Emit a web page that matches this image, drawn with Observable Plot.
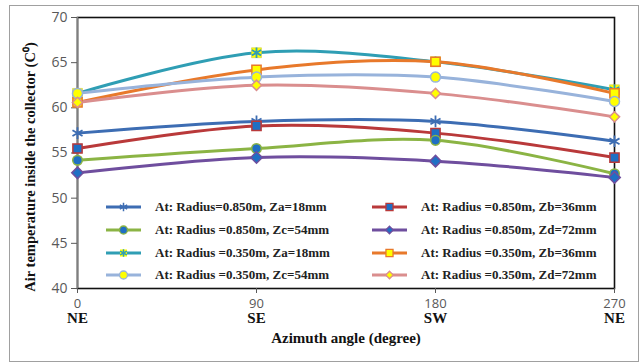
<!DOCTYPE html>
<html><head><meta charset="utf-8">
<script src="https://cdn.jsdelivr.net/npm/d3@7"></script>
<script src="https://cdn.jsdelivr.net/npm/@observablehq/plot@0.6"></script>
<style>
body{margin:0;background:#fff;}
#wrap{position:relative;width:639px;height:363px;overflow:hidden;background:#fff;}
#border{position:absolute;left:9px;top:5px;width:630px;height:357px;border:1px solid #a0a0a0;box-sizing:border-box;pointer-events:none;}
#chart{position:absolute;left:0;top:0;}
.leg{position:absolute;display:flex;align-items:center;font-family:"Liberation Serif","Times New Roman",serif;font-weight:bold;font-size:13px;color:#222;white-space:nowrap;}
.leg svg{margin-right:14px;}
</style></head>
<body><div id="wrap"><div id="chart"></div><div id="border"></div></div>
<script>
// ---- data ----
const azimuth = [0, 90, 180, 270];
const directions = ["NE", "SE", "SW", "NE"];
const yTicks = [40, 45, 50, 55, 60, 65, 70];
const seriesLabels = [
  "At: Radius=0.850m, Za=18mm",
  "At: Radius =0.850m, Zb=36mm",
  "At: Radius =0.850m, Zc=54mm",
  "At: Radius =0.850m, Zd=72mm",
  "At: Radius =0.350m, Za=18mm",
  "At: Radius =0.350m, Zb=36mm",
  "At: Radius =0.350m, Zc=54mm",
  "At: Radius =0.350m, Zd=72mm"
];
const r850Za = [57.2, 58.5, 58.5, 56.3];
const r850Zb = [55.5, 58.0, 57.2, 54.5];
const r850Zc = [54.2, 55.5, 56.4, 52.7];
const r850Zd = [52.8, 54.5, 54.1, 52.3];
const r350Za = [61.6, 66.1, 65.1, 62.0];
const r350Zb = [60.6, 64.2, 65.1, 61.6];
const r350Zc = [61.6, 63.4, 63.4, 60.7];
const r350Zd = [60.6, 62.5, 61.6, 59.0];
const seriesValues = [r850Za, r850Zb, r850Zc, r850Zd, r350Za, r350Zb, r350Zc, r350Zd];

// ---- styles ----
const lineColors = ["#3D6DB3", "#B9393A", "#8BB444", "#6F4E9E", "#2F9EB4", "#E8792B", "#98B3DB", "#DA8E8E"];
const markerFill = ["none", "#1F6FC4", "#1F6FC4", "#1F6FC4", "#FFFF00", "#FFFF00", "#FFFF00", "#FFFF00"];
const markerSymbol = ["asterisk", "square", "circle", "diamond2", "square", "square", "circle", "diamond2"];
const markerR = [5, 5.2, 4.8, 5.2, 5.6, 5.2, 5, 4.6];

const rows = [];
seriesValues.forEach((vals, s) => vals.forEach((v, i) => rows.push({s, x: azimuth[i], y: v})));

const marks = [
  Plot.frame({stroke: "#111", strokeWidth: 1.6}),
  Plot.ruleX([0], {stroke: "#7f7f7f", strokeWidth: 1.6}),
  Plot.axisY({ticks: yTicks, tickSize: 6, tickPadding: 4, label: null, color: "#595959",
    fontSize: 14, fontFamily: "Open Sans, Liberation Sans, sans-serif"}),
  Plot.axisX({ticks: azimuth, tickSize: 5, tickPadding: 5, label: null, color: "#595959",
    tickFormat: d => String(d), fontSize: 13, fontFamily: "Open Sans, Liberation Sans, sans-serif"}),
  Plot.axisX({ticks: azimuth, tickSize: 0, tickPadding: 24, label: null, color: "#111",
    tickFormat: (d, i) => directions[i], fontSize: 15, fontWeight: "bold",
    fontFamily: "Liberation Serif, Times New Roman, serif"}),
];
seriesValues.forEach((vals, s) => {
  const data = rows.filter(r => r.s === s);
  marks.push(Plot.line(data, {x: "x", y: "y", curve: "catmull-rom", stroke: lineColors[s], strokeWidth: 3}));
});
seriesValues.forEach((vals, s) => {
  const data = rows.filter(r => r.s === s);
  if (s === 0) {
    marks.push(Plot.dot(data, {x: "x", y: "y", symbol: "asterisk", r: 5.5, stroke: lineColors[s], strokeWidth: 1.8}));
  } else if (s === 4) {
    marks.push(Plot.dot(data, {x: "x", y: "y", symbol: "square", r: markerR[s], fill: "#FFFF00", stroke: "#c9c94a", strokeWidth: 0.6}));
    marks.push(Plot.dot(data, {x: "x", y: "y", symbol: "asterisk", r: 5, stroke: lineColors[s], strokeWidth: 1.8}));
  } else {
    marks.push(Plot.dot(data, {x: "x", y: "y", symbol: markerSymbol[s], r: markerR[s], fill: markerFill[s], stroke: lineColors[s], strokeWidth: 1.5}));
  }
});
marks.push(Plot.text(["Air temperature inside the collector (C⁰)"], {frameAnchor: "left", dx: -47, dy: 14, rotate: -90,
  textAnchor: "middle", lineAnchor: "middle",
  fontSize: 14.5, fontWeight: "bold", fontFamily: "Liberation Serif, Times New Roman, serif", fill: "#111"}));
marks.push(Plot.text(["Azimuth angle (degree)"], {frameAnchor: "bottom", dy: 54,
  fontSize: 15, fontWeight: "bold", fontFamily: "Liberation Serif, Times New Roman, serif", fill: "#111"}));

const chart = Plot.plot({
  width: 639, height: 363,
  marginLeft: 77, marginRight: 25, marginTop: 17, marginBottom: 75,
  x: {domain: [0, 270]},
  y: {domain: [40, 70]},
  style: {background: "transparent", overflow: "visible"},
  marks
});
document.getElementById("chart").appendChild(chart);

// ---- legend ----
const wrap = document.getElementById("wrap");
const colX = [106, 372];
const rowY = [207, 230, 252.5, 275];
const sym = {asterisk: d3.symbolAsterisk, square: d3.symbolSquare, circle: d3.symbolCircle, diamond2: d3.symbolDiamond2};
seriesLabels.forEach((label, s) => {
  const div = document.createElement("div");
  div.className = "leg";
  div.style.left = colX[s % 2] + "px";
  div.style.top = (rowY[Math.floor(s / 2)] - 8) + "px";
  const svg = d3.create("svg").attr("width", 35).attr("height", 16);
  svg.append("line").attr("x1", 0).attr("x2", 35).attr("y1", 8).attr("y2", 8)
    .attr("stroke", lineColors[s]).attr("stroke-width", 3);
  const g = svg.append("g").attr("transform", "translate(17.5,8)");
  const r = 4;
  if (s === 0) {
    g.append("path").attr("d", d3.symbol(d3.symbolAsterisk, r * r * Math.PI)()).attr("stroke", lineColors[s]).attr("stroke-width", 1.5).attr("fill", "none");
  } else if (s === 4) {
    g.append("path").attr("d", d3.symbol(d3.symbolSquare, r * r * Math.PI)()).attr("fill", "#FFFF00");
    g.append("path").attr("d", d3.symbol(d3.symbolAsterisk, 3.6 * 3.6 * Math.PI)()).attr("stroke", lineColors[s]).attr("stroke-width", 1.5).attr("fill", "none");
  } else {
    g.append("path").attr("d", d3.symbol(sym[markerSymbol[s]], (s === 3 || s === 7 ? 3.4 : r) ** 2 * Math.PI)())
      .attr("fill", markerFill[s]).attr("stroke", lineColors[s]).attr("stroke-width", 1.3);
  }
  div.appendChild(svg.node());
  const span = document.createElement("span");
  span.textContent = label;
  div.appendChild(span);
  wrap.appendChild(div);
});
</script>
</body></html>
